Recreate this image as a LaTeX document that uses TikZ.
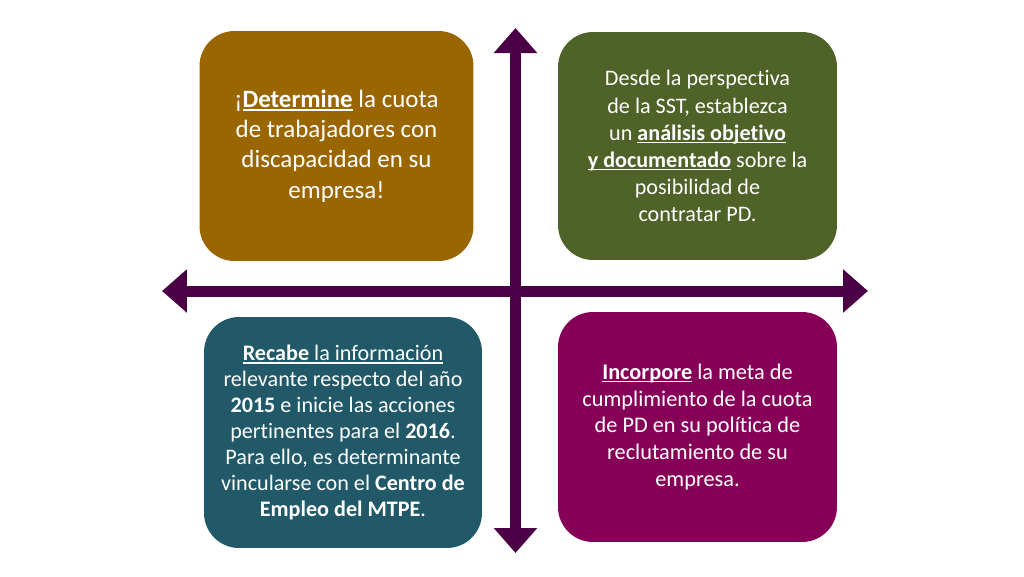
\documentclass[tikz,border=0pt]{standalone}
\usepackage{fontspec}
\setmainfont{Carlito}[Ligatures=NoCommon]
\usetikzlibrary{arrows.meta}
\definecolor{cgold}{HTML}{996600}
\definecolor{colive}{HTML}{4F6228}
\definecolor{cteal}{HTML}{215968}
\definecolor{cplum}{HTML}{860058}
\definecolor{carrow}{HTML}{4B0046}
\newcommand{\ulw}[1]{\setbox0\hbox{#1}\rlap{\rule[-0.14em]{\wd0}{0.07em}}\box0\relax}
\tikzset{
  qbox/.style={rounded corners=0.7cm, text=white, align=center, inner sep=0pt},
  axisarrow/.style={carrow, line width=0.22cm, line cap=butt,
    {Triangle[width=0.84cm,length=0.5cm]}-{Triangle[width=0.84cm,length=0.5cm]}}
}
\begin{document}
\begin{tikzpicture}[x=0.02cm,y=-0.02cm]
\path[use as bounding box, fill=white] (0,0) rectangle (1024,576);
\node[qbox, fill=cgold, minimum width=5.48cm, minimum height=4.6cm,
      font=\fontsize{14.2}{17.3}\selectfont] (tl) at (336.5,146)
  {¡\ulw{\textbf{Determine}} la cuota\\de trabajadores con\\discapacidad en su\\empresa!};
\node[qbox, fill=colive, minimum width=5.58cm, minimum height=4.56cm,
      font=\fontsize{12.6}{15.4}\selectfont] (tr) at (697.5,146)
  {Desde la perspectiva\\de la SST, establezca\\un \ulw{\textbf{análisis objetivo}}\\\ulw{\textbf{y documentado}} sobre la\\posibilidad de\\contratar PD.};
\node[qbox, fill=cteal, minimum width=5.56cm, minimum height=4.62cm,
      font=\fontsize{12.6}{14.8}\selectfont] (bl) at (343,432.5)
  {\ulw{\textbf{Recabe} la información}\\relevante respecto del año\\\textbf{2015} e inicie las acciones\\pertinentes para el \textbf{2016}.\\Para ello, es determinante\\vincularse con el \textbf{Centro de}\\\textbf{Empleo del MTPE}.};
\node[qbox, fill=cplum, minimum width=5.58cm, minimum height=4.6cm,
      font=\fontsize{12.7}{15.3}\selectfont] (br) at (697.5,427)
  {\ulw{\textbf{Incorpore}} la meta de\\cumplimiento de la cuota\\de PD en su política de\\reclutamiento de su\\empresa.};
\coordinate (top) at (515.5,28);
\coordinate (bottom) at (515.5,553);
\coordinate (left) at (162,291);
\coordinate (right) at (868,291);
\draw[axisarrow] (left) -- (right);
\draw[axisarrow] (top) -- (bottom);
\end{tikzpicture}
\end{document}
